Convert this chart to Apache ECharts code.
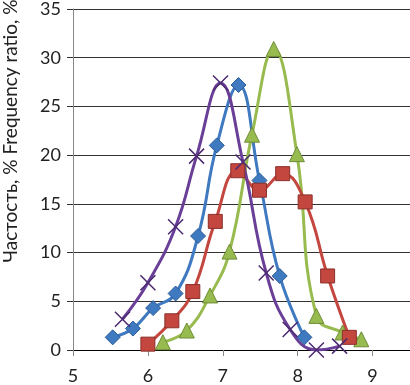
<!DOCTYPE html>
<html><head><meta charset="utf-8">
<script src="https://cdn.jsdelivr.net/npm/echarts@6/dist/echarts.min.js"></script>
<style>html,body{margin:0;padding:0;background:#fff}#c{width:410px;height:385px}</style>
</head><body><div id="c"></div>
<script>
const blueX = [5.53,5.8,6.07,6.37,6.67,6.92,7.21,7.49,7.76,8.09];
const blueY = [1.3,2.2,4.3,5.8,11.7,21.0,27.2,17.4,7.6,1.3];
const redX = [6.0,6.32,6.6,6.9,7.2,7.49,7.8,8.1,8.4,8.69];
const redY = [0.6,3.0,6.0,13.2,18.4,16.4,18.1,15.2,7.6,1.3];
const greenX = [6.2,6.52,6.83,7.09,7.39,7.68,7.99,8.25,8.6,8.85];
const greenY = [0.8,2.0,5.6,10.1,22.1,30.9,20.1,3.5,1.8,1.1];
const purpleX = [5.66,6.0,6.37,6.65,6.97,7.27,7.58,7.9,8.25,8.56];
const purpleY = [3.15,6.9,12.65,19.9,27.4,19.3,7.9,2.1,0,0.4];
const yTitle = 'Частость, % Frequency ratio, %';

const pair = (xs, ys) => xs.map((x, i) => [x, ys[i]]);
const FONT = 'Lato';
function ser(name, xs, ys, color, border, symbol, size, extra) {
  return Object.assign({
    name, type: 'line', data: pair(xs, ys), smooth: 0.45,
    symbol, symbolSize: size,
    lineStyle: { color, width: 3 },
    itemStyle: { color, borderColor: border, borderWidth: 1 },
    emphasis: { disabled: true }
  }, extra || {});
}
const chart = echarts.init(document.getElementById('c'), null, { renderer: 'canvas' });
chart.setOption({
  animation: false,
  grid: { left: 73, right: 0, top: 6, bottom: 34, containLabel: false },
  graphic: [{
    type: 'text', rotation: Math.PI / 2, x: 11, y: 131, silent: true,
    style: { text: yTitle, font: '19px Lato', fill: '#222', align: 'center', verticalAlign: 'middle' }
  }],
  xAxis: {
    type: 'value', min: 5, max: 9.5, interval: 1,
    axisLine: { show: true, onZero: false, lineStyle: { color: '#000', width: 1 } },
    axisTick: { show: true, length: 6, lineStyle: { color: '#888' } },
    axisLabel: { fontFamily: FONT, fontSize: 18, color: '#222', margin: 17, showMaxLabel: false },
    splitLine: { show: false }
  },
  yAxis: {
    type: 'value', min: 0, max: 35, interval: 5,
    axisLine: { show: true, lineStyle: { color: '#888' } },
    axisTick: { show: true, length: 6, lineStyle: { color: '#333' } },
    axisLabel: { fontFamily: FONT, fontSize: 18, color: '#222', margin: 12 },
    splitLine: { show: true, lineStyle: { color: '#333', width: 1 } }
  },
  series: [
    ser('blue', blueX, blueY, '#3f79c0', '#2b5d99', 'diamond', 15),
    ser('green', greenX, greenY, '#98bb50', '#6e8c35', 'triangle', 15),
    ser('red', redX, redY, '#c3463f', '#8c302b', 'rect', 14),
    ser('purple', purpleX, purpleY, '#6a3f98', '#4b2a70', 'path://M0,0L10,10M10,0L0,10', 15,
      { itemStyle: { color: '#4b2a70', borderColor: '#4b2a70', borderWidth: 1.5 } })
  ]
});
</script></body></html>
